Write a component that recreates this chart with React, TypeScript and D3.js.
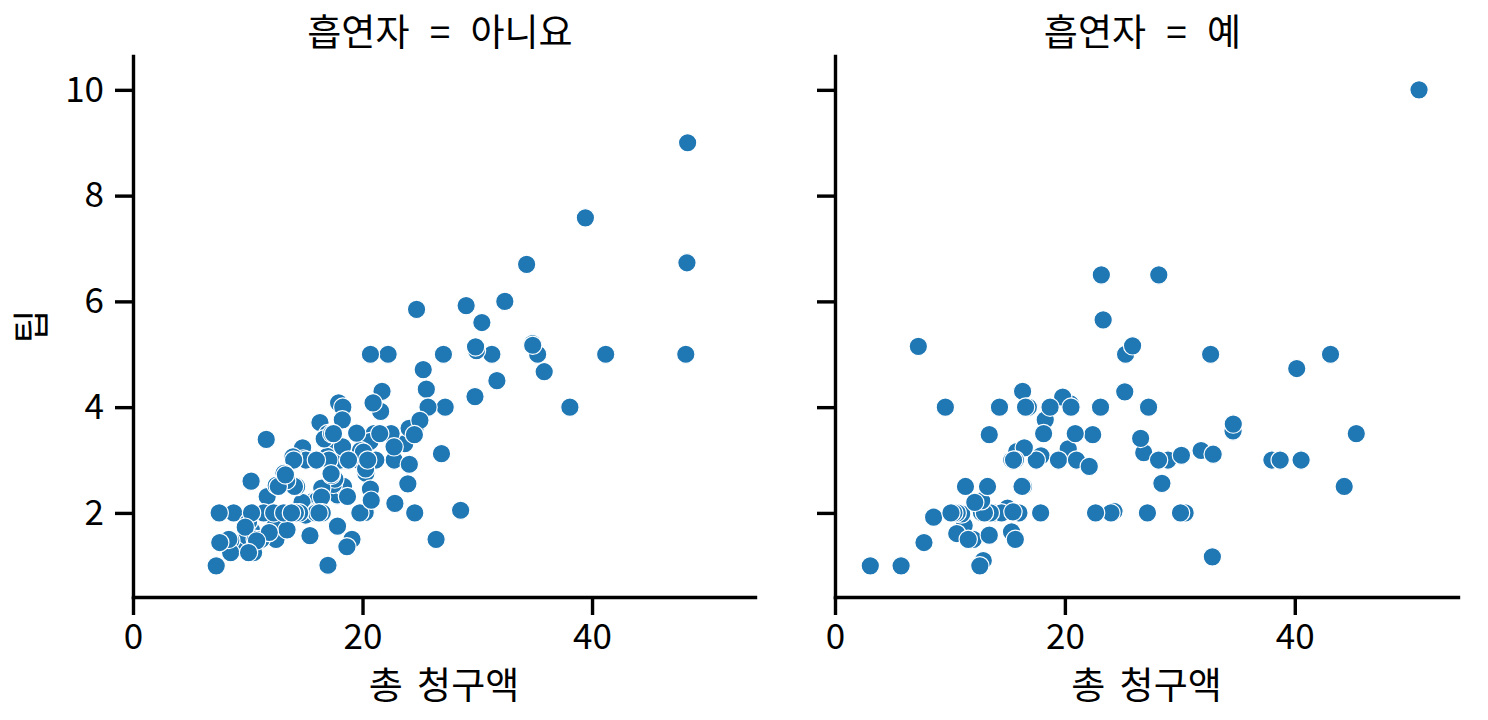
import * as d3 from "d3";
import { useEffect, useRef } from "react";

// tips data, smoker = No
const noBill = [
  16.99, 10.34, 21.01, 23.68, 24.59, 25.29, 8.77, 26.88, 15.04, 14.78, 10.27, 35.26, 15.42, 18.43,
  14.83, 21.58, 10.33, 16.29, 16.97, 20.65, 17.92, 20.29, 15.77, 39.42, 19.82, 17.81, 13.37, 12.69,
  21.7, 19.65, 9.55, 18.35, 15.06, 20.69, 17.78, 24.06, 16.31, 16.93, 18.69, 31.27, 16.04, 17.46,
  13.94, 9.68, 30.4, 18.29, 22.23, 32.4, 28.55, 18.04, 12.54, 10.29, 34.81, 9.94, 25.56, 19.49,
  26.41, 48.27, 17.59, 20.08, 16.45, 20.23, 12.02, 17.07, 14.73, 10.51, 27.2, 22.76, 17.29, 16.66,
  10.07, 15.98, 34.83, 13.03, 18.28, 24.71, 21.16, 22.49, 22.75, 12.46, 20.92, 18.24, 14.0, 7.25,
  38.07, 23.95, 25.71, 17.31, 29.93, 10.65, 12.43, 24.08, 11.69, 13.42, 14.26, 15.95, 12.48, 29.8,
  8.52, 14.52, 11.38, 22.82, 19.08, 20.27, 11.17, 12.26, 18.26, 8.51, 10.33, 14.15, 13.16, 17.47,
  34.3, 41.19, 27.05, 16.43, 8.35, 18.64, 11.87, 9.78, 7.51, 14.07, 13.13, 17.26, 24.55, 19.77,
  29.85, 48.17, 25.0, 13.39, 16.49, 21.5, 12.66, 16.21, 13.81, 24.52, 20.76, 31.71, 20.69, 7.56,
  48.33, 15.98, 20.45, 13.28, 11.61, 10.77, 10.07, 35.83, 29.03, 17.82, 18.78,
];
const noTip = [
  1.01, 1.66, 3.5, 3.31, 3.61, 4.71, 2.0, 3.12, 1.96, 3.23, 1.71, 5.0, 1.57, 3.0,
  3.02, 3.92, 1.67, 3.71, 3.5, 3.35, 4.08, 2.75, 2.23, 7.58, 3.18, 2.34, 2.0, 2.0,
  4.3, 3.0, 1.45, 2.5, 3.0, 2.45, 3.27, 3.6, 2.0, 3.07, 2.31, 5.0, 2.24, 2.54,
  3.06, 1.32, 5.6, 3.0, 5.0, 6.0, 2.05, 3.0, 2.5, 2.6, 5.2, 1.56, 4.34, 3.51,
  1.5, 6.73, 2.64, 3.15, 2.47, 2.01, 1.97, 3.0, 2.2, 1.25, 4.0, 3.0, 2.71, 3.4,
  1.83, 2.03, 5.17, 2.0, 4.0, 5.85, 3.0, 3.5, 3.25, 1.5, 4.08, 3.76, 3.0, 1.0,
  4.0, 2.55, 4.0, 3.5, 5.07, 1.5, 1.8, 2.92, 2.31, 1.68, 2.5, 2.0, 2.52, 4.2,
  1.48, 2.0, 2.0, 2.18, 1.5, 2.83, 1.5, 2.0, 3.25, 1.25, 2.0, 2.0, 2.75, 3.5,
  6.7, 5.0, 5.0, 2.3, 1.5, 1.36, 1.63, 1.73, 2.0, 2.5, 2.0, 2.74, 2.0, 2.0,
  5.14, 5.0, 3.75, 2.61, 2.0, 3.5, 2.5, 2.0, 2.0, 3.48, 2.24, 4.5, 5.0, 1.44,
  9.0, 3.0, 3.0, 2.72, 3.39, 1.47, 1.25, 4.67, 5.92, 1.75, 3.0,
];

// smoker = Yes
const yesBill = [
  38.01, 11.24, 20.29, 13.81, 11.02, 18.29, 3.07, 15.01, 26.86, 25.28, 17.92, 19.44, 32.68, 28.97,
  5.75, 16.32, 40.17, 27.28, 12.03, 21.01, 11.35, 15.38, 44.3, 22.42, 15.36, 20.49, 25.21, 14.31,
  16.0, 17.51, 10.59, 10.63, 50.81, 15.81, 7.25, 31.85, 16.82, 32.9, 17.89, 14.48, 9.6, 34.63,
  34.65, 23.33, 45.35, 23.17, 40.55, 20.9, 30.46, 18.15, 23.1, 15.69, 19.81, 28.44, 15.48, 16.58,
  10.34, 43.11, 13.0, 13.51, 18.71, 12.74, 13.0, 16.4, 20.53, 16.47, 26.59, 38.73, 24.27, 12.76,
  30.06, 25.89, 13.27, 28.17, 12.9, 28.15, 11.59, 7.74, 30.14, 12.16, 13.42, 8.58, 13.42, 16.27,
  10.09, 22.12, 24.01, 15.69, 15.53, 12.6, 32.83, 27.18, 22.67,
];
const yesTip = [
  3.0, 1.76, 3.21, 2.0, 1.98, 3.76, 1.0, 2.09, 3.14, 5.0, 3.08, 3.0, 5.0, 3.0,
  1.0, 4.3, 4.73, 4.0, 1.5, 3.0, 2.5, 3.0, 2.5, 3.48, 1.64, 4.06, 4.29, 4.0,
  2.0, 3.0, 1.61, 2.0, 10.0, 3.16, 5.15, 3.18, 4.0, 3.11, 2.0, 2.0, 4.0, 3.55,
  3.68, 5.65, 3.5, 6.5, 3.0, 3.5, 2.0, 3.5, 4.0, 1.5, 4.19, 2.56, 2.02, 4.0,
  2.0, 5.0, 2.0, 2.0, 4.0, 2.01, 2.0, 2.5, 4.0, 3.23, 3.41, 3.0, 2.03, 2.23,
  2.0, 5.16, 2.5, 6.5, 1.1, 3.0, 1.5, 1.44, 3.09, 2.2, 3.48, 1.92, 1.58, 2.5,
  2.0, 2.88, 2.0, 3.0, 3.0, 1.0, 1.17, 2.0, 2.0,
];

const panelTitles = ["흡연자 = 아니요", "흡연자 = 예"];
const xTicks = [0, 20, 40];
const yTicks = [2, 4, 6, 8, 10];
const xLabel = "총 청구액";
const yLabel = "팁";

const FONT = "'Noto Sans CJK KR', 'Noto Sans', sans-serif";

export default function App() {
  const svgRef = useRef<SVGSVGElement | null>(null);

  useEffect(() => {
    if (!svgRef.current) return;
    const svg = d3.select(svgRef.current);
    svg.selectAll("*").remove();

    const top = 56;
    const bottom = 597;
    const panels = [
      { left: 133, right: 755, bill: noBill, tip: noTip },
      { left: 835, right: 1458, bill: yesBill, tip: yesTip },
    ];

    const y = d3.scaleLinear().domain([0.41, 10.64]).range([bottom, top]);

    panels.forEach((p, i) => {
      const x = d3.scaleLinear().domain([0, 54.2]).range([p.left, p.right]);
      const g = svg.append("g");

      // points
      const pts = d3.zip(p.bill, p.tip);
      g.append("g")
        .selectAll("circle")
        .data(pts)
        .enter()
        .append("circle")
        .attr("cx", (d) => x(d[0]))
        .attr("cy", (d) => y(d[1]))
        .attr("r", 9.2)
        .attr("fill", "#1f77b4")
        .attr("stroke", "#fff")
        .attr("stroke-width", 1.2);

      // axes
      const xAxis = g
        .append("g")
        .attr("transform", `translate(0,${bottom})`)
        .call(
          d3.axisBottom(x).tickValues(xTicks).tickFormat(d3.format("d")).tickSize(18).tickSizeOuter(0).tickPadding(9)
        );
      const yAxis = g
        .append("g")
        .attr("transform", `translate(${p.left},0)`)
        .call(
          d3
            .axisLeft(y)
            .tickValues(yTicks)
            .tickFormat((d) => (i === 0 ? d3.format("d")(d as number) : ""))
            .tickSize(18)
            .tickSizeOuter(0)
            .tickPadding(11)
        );

      [xAxis, yAxis].forEach((a) => {
        a.select(".domain").attr("stroke", "#000").attr("stroke-width", 3.4).attr("stroke-linecap", "square");
        a.selectAll(".tick line").attr("stroke", "#000").attr("stroke-width", 3.4);
        a.selectAll(".tick text").attr("font-family", FONT).attr("font-size", 35).attr("fill", "#000");
      });

      const cx = (p.left + p.right) / 2;
      g.append("text")
        .attr("x", cx - 4)
        .attr("y", 46)
        .attr("text-anchor", "middle")
        .attr("font-family", FONT)
        .attr("font-size", 37)
        .attr("word-spacing", 12)
        .text(panelTitles[i]);

      g.append("text")
        .attr("x", cx)
        .attr("y", 699)
        .attr("text-anchor", "middle")
        .attr("font-family", FONT)
        .attr("font-size", 37)
        .attr("word-spacing", 6)
        .text(xLabel);
    });

    svg
      .append("text")
      .attr("transform", `translate(45,${(top + bottom) / 2}) rotate(-90)`)
      .attr("text-anchor", "middle")
      .attr("font-family", FONT)
      .attr("font-size", 37)
      .text(yLabel);
  }, []);

  return (
    <svg
      ref={svgRef}
      width={1488}
      height={720}
      viewBox="0 0 1488 720"
      style={{ position: "absolute", left: 0, top: 0, background: "#fff" }}
    />
  );
}
